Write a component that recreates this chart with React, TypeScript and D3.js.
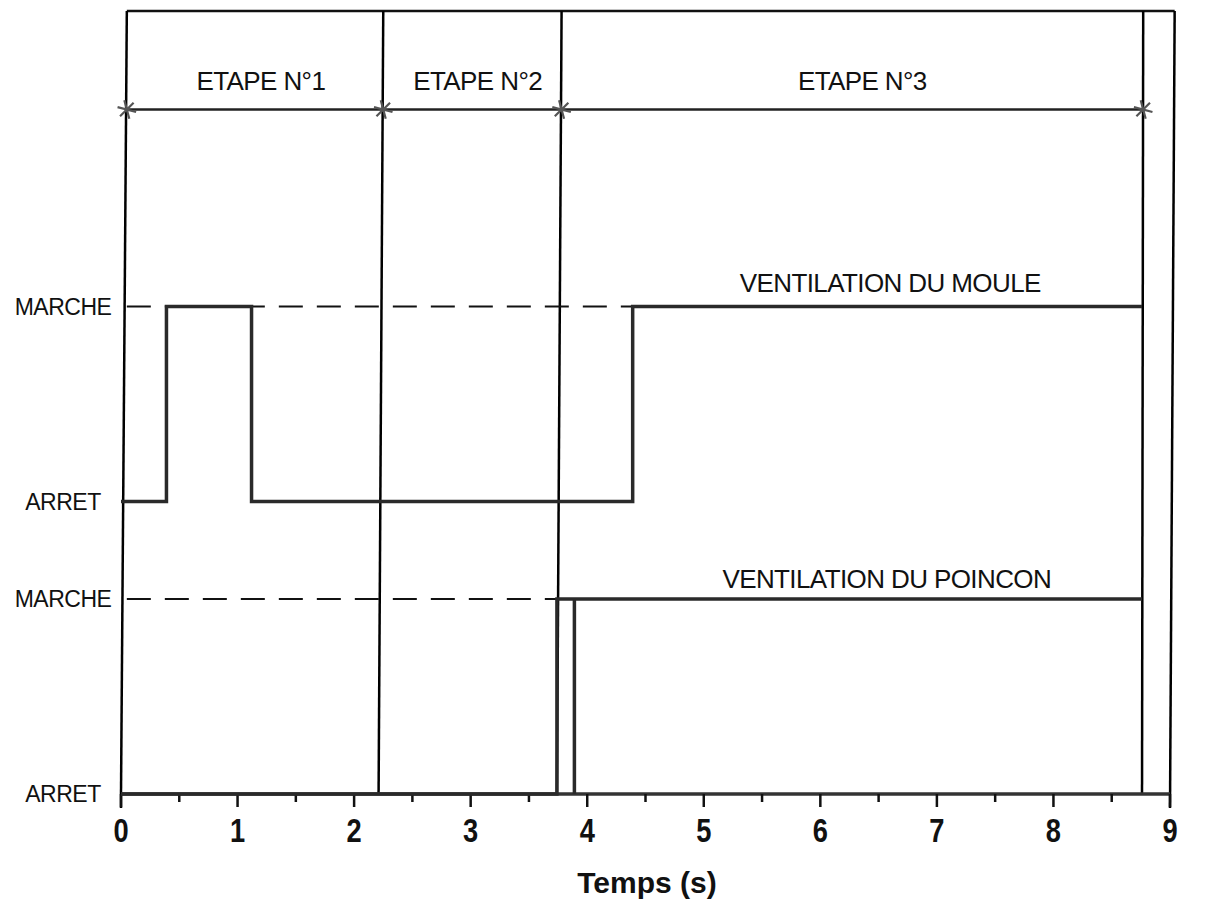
import React from "react";
import * as d3 from "d3";

// ---- data ----
const xTicksMajor = [0, 1, 2, 3, 4, 5, 6, 7, 8, 9];
const xTicksMinor = [0.5, 1.5, 2.5, 3.5, 4.5, 5.5, 6.5, 7.5, 8.5];
const levelLabels = ["ARRET", "MARCHE", "ARRET", "MARCHE"];
const levelValues = [0, 1, 1.5, 2.5];

// stage boundaries (hand drawn: slightly slanted), time at top and at bottom
const boundaryTop = [0.05, 2.25, 3.78, 8.77];
const boundaryBottom = [0.0, 2.21, 3.74, 8.76];
const outerTop = 9.04;
const outerBottom = 9.0;

const stageNames = ["ETAPE N°1", "ETAPE N°2", "ETAPE N°3"];
const stageLabelT = [1.2, 3.06, 6.36];

// Ventilation du moule (offset 1.5): time, state
const mouleT = [0, 0.39, 0.39, 1.12, 1.12, 4.39, 4.39, 8.76];
const mouleS = [0, 0, 1, 1, 0, 0, 1, 1];
// Ventilation du poinçon (offset 0)
const poinconT = [0, 3.74, 3.74, 3.89, 3.89, 3.89, 8.76];
const poinconS = [0, 0, 1, 1, 0, 1, 1];

const mouleDashEnd = 4.39;
const poinconDashEnd = 3.74;

const seriesNames = ["VENTILATION DU MOULE", "VENTILATION DU POINCON"];
const seriesLabelT = [6.6, 6.57];

const axisTitle = "Temps (s)";

export default function App() {
  const W = 1206;
  const H = 917;
  const x = d3.scaleLinear().domain([0, 9]).range([121, 1170]);
  const y = d3.scaleLinear().domain([0, 4]).range([794, 14]);
  const topLevel = 4.015;
  const stepLevel = 3.51;

  const line = d3
    .line<[number, number]>()
    .x((d) => x(d[0]))
    .y((d) => y(d[1]));

  const moulePts: [number, number][] = mouleT.map((t, i) => [t, 1.5 + mouleS[i]]);
  const poinconPts: [number, number][] = poinconT.map((t, i) => [t, poinconS[i]]);

  const star = d3.symbol(d3.symbolAsterisk, 260)();
  const labelFont = "'Liberation Sans', Arial, Helvetica, sans-serif";

  return (
    <div style={{ position: "absolute", left: 0, top: 0 }}>
      <svg width={W} height={H} style={{ display: "block", background: "#fff" }}>
        {/* top border */}
        <line
          x1={x(boundaryTop[0])}
          y1={y(topLevel)}
          x2={x(outerTop)}
          y2={y(topLevel)}
          stroke="#111"
          strokeWidth={2.5}
        />
        {/* stage boundary verticals */}
        {boundaryTop.map((t, i) => (
          <line
            key={"b" + i}
            x1={x(t)}
            y1={y(topLevel)}
            x2={x(boundaryBottom[i])}
            y2={y(0)}
            stroke="#000"
            strokeWidth={2.5}
          />
        ))}
        {/* outer right border */}
        <line x1={x(outerTop)} y1={y(topLevel)} x2={x(outerBottom)} y2={y(0) + 14} stroke="#000" strokeWidth={2.5} />
        {/* left line extends to tick */}
        <line x1={x(0)} y1={y(0)} x2={x(0)} y2={y(0) + 14} stroke="#000" strokeWidth={2.5} />

        {/* stage arrow line */}
        <line
          x1={x(boundaryTop[0])}
          y1={y(stepLevel)}
          x2={x(boundaryTop[3])}
          y2={y(stepLevel)}
          stroke="#222"
          strokeWidth={2.5}
        />
        {boundaryTop.map((t, i) => (
          <path
            key={"s" + i}
            d={star || ""}
            transform={`translate(${x(t)},${y(stepLevel)}) rotate(45)`}
            fill="#555"
            stroke="#555"
            strokeWidth={2.2}
          />
        ))}
        {stageNames.map((s, i) => (
          <text
            key={"st" + i}
            x={x(stageLabelT[i])}
            y={y(stepLevel) - 20}
            textAnchor="middle"
            fontFamily={labelFont}
            fontSize={26}
            letterSpacing={-0.6}
            fill="#111"
          >
            {s}
          </text>
        ))}

        {/* dashed reference lines */}
        <line
          x1={x(boundaryTop[0])}
          y1={y(2.5)}
          x2={x(mouleDashEnd)}
          y2={y(2.5)}
          stroke="#111"
          strokeWidth={2}
          strokeDasharray="24 14"
        />
        <line
          x1={x(boundaryTop[0])}
          y1={y(1)}
          x2={x(poinconDashEnd)}
          y2={y(1)}
          stroke="#111"
          strokeWidth={2}
          strokeDasharray="24 14"
        />

        {/* axis */}
        <line x1={x(0)} y1={y(0)} x2={x(9)} y2={y(0)} stroke="#333" strokeWidth={3.5} />
        {xTicksMajor.map((t) => (
          <g key={"M" + t}>
            <line x1={x(t)} y1={y(0)} x2={x(t)} y2={y(0) + 13} stroke="#111" strokeWidth={2.5} />
            <text
              transform={`translate(${x(t)},842) scale(0.88,1.05)`}
              textAnchor="middle"
              fontFamily={labelFont}
              fontWeight="bold"
              fontSize={31}
              fill="#111"
            >
              {t}
            </text>
          </g>
        ))}
        {xTicksMinor.map((t) => (
          <line key={"m" + t} x1={x(t)} y1={y(0)} x2={x(t)} y2={y(0) + 8} stroke="#111" strokeWidth={2.5} />
        ))}
        <text
          x={647}
          y={893}
          textAnchor="middle"
          fontFamily={labelFont}
          fontWeight="bold"
          fontSize={30}
          fill="#111"
        >
          {axisTitle}
        </text>

        {/* level labels */}
        {levelValues.map((v, i) => (
          <text
            key={"l" + i}
            x={63}
            y={y(v) + 8}
            textAnchor="middle"
            fontFamily={labelFont}
            fontSize={23}
            letterSpacing={-0.5}
            fill="#111"
          >
            {levelLabels[i]}
          </text>
        ))}

        {/* signals */}
        <path d={line(moulePts) || ""} fill="none" stroke="#2a2a2a" strokeWidth={3.5} />
        <path d={line(poinconPts) || ""} fill="none" stroke="#2a2a2a" strokeWidth={3.5} />

        {/* series labels */}
        <text
          x={x(seriesLabelT[0])}
          y={y(2.5) - 15}
          textAnchor="middle"
          fontFamily={labelFont}
          fontSize={26}
          letterSpacing={-0.6}
          fill="#111"
        >
          {seriesNames[0]}
        </text>
        <text
          x={x(seriesLabelT[1])}
          y={y(1) - 11}
          textAnchor="middle"
          fontFamily={labelFont}
          fontSize={26}
          letterSpacing={-0.6}
          fill="#111"
        >
          {seriesNames[1]}
        </text>
      </svg>
    </div>
  );
}
